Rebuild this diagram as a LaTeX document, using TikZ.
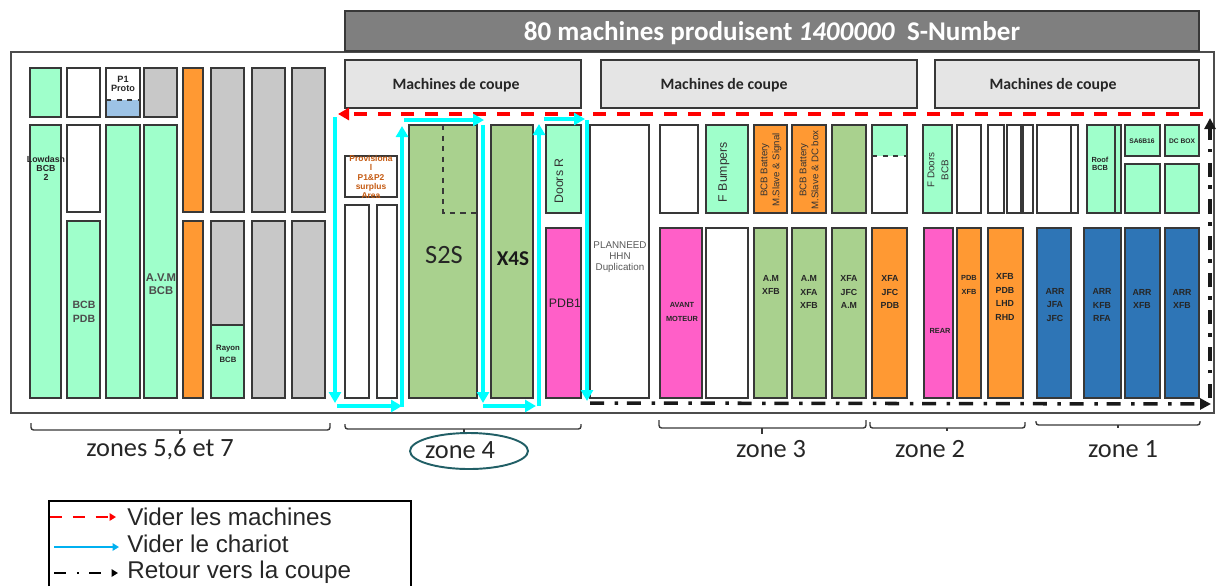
\documentclass[tikz,border=0pt]{standalone}
\usepackage{fontspec}
\setmainfont{Liberation Sans}
\newfontfamily\calib{Carlito}
\usetikzlibrary{arrows.meta, positioning, shapes.geometric}
\definecolor{mint}{HTML}{9FFFCB}
\definecolor{amber}{HTML}{FF9933}
\definecolor{stone}{HTML}{C8C8C8}
\definecolor{leaf}{HTML}{A9D18E}
\definecolor{fuchsia}{HTML}{FF5FC8}
\definecolor{navy}{HTML}{2E75B6}
\definecolor{sky}{HTML}{9DC3E6}
\definecolor{pale}{HTML}{E5E5E5}
\definecolor{slate}{HTML}{7F7F7F}
\definecolor{lagoon}{HTML}{215F66}
\definecolor{rust}{HTML}{C55A11}
\definecolor{aqua}{HTML}{00FFFF}
\definecolor{keyblue}{HTML}{00B0F0}
\definecolor{routered}{HTML}{FF0000}
\tikzset{
  bay/.style={rectangle, draw=black!78, line width=1.1pt, inner sep=0pt, outer sep=0pt, fill=white},
  tag/.style={inner sep=0pt, align=center, text=black!85, font=\bfseries\fontsize{5}{7.7}\selectfont},
  thin tag/.style={inner sep=0pt, align=center, text=black!80, font=\fontsize{6}{7.4}\selectfont},
  coupe/.style={inner sep=0pt, text=black!85, font=\calib\bfseries\fontsize{9}{10}\selectfont},
  zonetag/.style={inner sep=0pt, text=black!85, font=\calib\fontsize{15}{17}\selectfont},
  legendtag/.style={inner sep=0pt, anchor=base west, text=black!85, font=\fontsize{13.8}{16}\selectfont},
  redroute/.style={-{Triangle[length=2.2mm,width=2.4mm]}, routered, line width=2pt, dash pattern=on 7.4pt off 6.2pt},
  cyanroute/.style={-{Triangle[length=2.2mm,width=2.4mm]}, aqua, line width=2pt},
  blackroute/.style={-{Triangle[length=2.2mm,width=2.2mm]}, black!90, line width=2pt, dash pattern=on 8pt off 6pt on 2pt off 5pt},
  zonebrace/.style={draw=black!78, line width=0.8pt, rounded corners=1.5pt},
}
\newcommand{\bay}[6][]{\node[bay,#1,minimum width={(#4-#2)*0.02cm},minimum height={(#5-#3)*0.02cm}] (#6) at ({(#2+#4)/2},{(#3+#5)/2}) {};}

\begin{document}
\begin{tikzpicture}[x=0.02cm, y=-0.02cm]
  \useasboundingbox (0,0) rectangle (1223,586);

  \bay[draw=black!70, fill=none]{11}{52}{1214}{413}{hall}
  \bay[fill=slate]{345}{11}{1199}{51}{header}
  \node[inner sep=0pt, text=white, font=\calib\bfseries\fontsize{15.4}{18}\selectfont] (headertext) at (772,33) {80 machines produisent \textit{1400000}~ S-Number};

  % machines de coupe
  \bay[fill=pale]{345}{60}{581}{108}{coupeA}
  \bay[fill=pale]{601}{60}{917}{108}{coupeB}
  \bay[fill=pale]{935}{60}{1199}{108}{coupeC}
  \node[coupe] (coupeAtext) at (456,85) {Machines de coupe};
  \node[coupe] (coupeBtext) at (724,85) {Machines de coupe};
  \node[coupe] (coupeCtext) at (1053,85) {Machines de coupe};

  % zones 5,6 et 7
  \bay[fill=mint]{30}{68}{61}{117}{upA}
  \bay{67}{68}{100}{117}{upB}
  \bay{106}{68}{140}{117}{upC}
  \bay[fill=sky, draw=none]{107}{100}{139}{116}{upCblue}
  \draw[black!78, line width=1.1pt, dashed] (upC.west |- upCblue.north) -- (upC.east |- upCblue.north);
  \bay[fill=stone]{144}{68}{177}{117}{upD}
  \bay[fill=amber]{183}{68}{203}{212}{upE}
  \bay[fill=stone]{211}{68}{244}{212}{upF}
  \bay[fill=stone]{252}{68}{285}{212}{upG}
  \bay[fill=stone]{292}{68}{325}{212}{upH}
  \bay[fill=mint]{30}{125}{61}{398}{lowA}
  \bay{67}{125}{100}{212}{midB}
  \bay[fill=mint]{67}{221}{100}{398}{lowB}
  \bay[fill=mint]{106}{125}{140}{398}{lowC}
  \bay[fill=mint]{144}{125}{177}{398}{lowD}
  \bay[fill=amber]{183}{221}{203}{398}{lowE}
  \bay[fill=stone]{211}{221}{244}{325}{lowF}
  \bay[fill=mint]{211}{325}{244}{398}{lowFmint}
  \bay[fill=stone]{252}{221}{285}{398}{lowG}
  \bay[fill=stone]{292}{221}{325}{398}{lowH}
  \node[tag, font=\bfseries\fontsize{5.2}{5.4}\selectfont] (protoText) at (123,84) {P1\\Proto};
  \node[tag, font=\bfseries\fontsize{5}{5.1}\selectfont] (lowdashText) at (46,168) {Lowdash\\BCB\\2};
  \node[thin tag, font=\bfseries\fontsize{6}{8}\selectfont, text=black!70] (bcbPdbText) at (84,312) {BCB\\PDB};
  \node[thin tag, font=\bfseries\fontsize{6.4}{7.5}\selectfont, text=black!70] (avmText) at (161,284) {A.V.M\\BCB};
  \node[tag, font=\bfseries\fontsize{4.4}{7}\selectfont] (rayonText) at (228,354) {Rayon\\BCB};

  % zone 4
  \bay{345}{156}{397}{197}{surplus}
  \bay{345}{205}{369}{398}{chariotA}
  \bay{377}{205}{397}{398}{chariotB}
  \bay[fill=leaf]{409}{125}{477}{398}{stwos}
  \draw[black!78, line width=1.1pt, dashed] (443,125) -- (443,213) -- (477,213);
  \bay[fill=leaf]{491}{125}{533}{398}{xfours}
  \bay[fill=mint]{546}{125}{581}{213}{doorsR}
  \bay[fill=fuchsia]{546}{228}{581}{398}{pdbone}
  \bay{590}{125}{649}{398}{planned}
  \node[tag, text=rust, font=\bfseries\fontsize{4.8}{5.3}\selectfont] (surplusText) at (371,177) {Provisiona\\l\\P1\&P2\\surplus\\Area};
  \node[inner sep=0pt, text=black!85, font=\calib\fontsize{15}{17}\selectfont] (stwosText) at (444,255) {S2S};
  \node[inner sep=0pt, text=black!90, font=\calib\bfseries\fontsize{12}{14}\selectfont] (xfoursText) at (513,259) {X4S};
  \node[thin tag, rotate=90, font=\fontsize{7}{8}\selectfont] (doorsRText) at (559,181) {Doors R};
  \node[inner sep=0pt, text=black!85, font=\fontsize{7}{8}\selectfont] (pdboneText) at (565,303) {PDB1};
  \node[thin tag, text=black!65, font=\fontsize{5.6}{6.2}\selectfont] (plannedText) at (620,257) {PLANNEED\\HHN\\Duplication};

  % zone 3
  \bay{660}{125}{698}{213}{upI}
  \bay[fill=mint]{706}{125}{748}{213}{upJ}
  \bay[fill=amber]{754}{125}{787}{213}{upK}
  \bay[fill=amber]{792}{125}{826}{213}{upL}
  \bay[fill=leaf]{832}{125}{866}{213}{upM}
  \bay[fill=fuchsia]{660}{228}{702}{398}{lowI}
  \bay{706}{228}{748}{398}{lowJ}
  \bay[fill=leaf]{754}{228}{787}{398}{lowK}
  \bay[fill=leaf]{792}{228}{826}{398}{lowL}
  \bay[fill=leaf]{832}{228}{866}{398}{lowM}
  \node[thin tag, rotate=90, font=\fontsize{7}{8}\selectfont] (bumpersText) at (724,172) {F Bumpers};
  \node[thin tag, rotate=90, font=\fontsize{5.5}{6.8}\selectfont] (batteryAText) at (771,170) {BCB Battery\\M.Slave \& Signal};
  \node[thin tag, rotate=90, font=\fontsize{5.5}{6.8}\selectfont] (batteryBText) at (809,170) {BCB Battery\\M.Slave \& DC box};
  \node[tag, font=\bfseries\fontsize{4.2}{7.7}\selectfont] (avantText) at (682,312) {AVANT\\MOTEUR};
  \node[tag] (lowKText) at (771,285) {A.M\\XFB};
  \node[tag] (lowLText) at (809,292) {A.M\\XFA\\XFB};
  \node[tag] (lowMText) at (849,292) {XFA\\JFC\\A.M};

  % zone 2
  \bay{872}{125}{907}{213}{upN}
  \bay[fill=mint, draw=none]{873}{126}{906}{156}{upNmint}
  \draw[black!78, line width=1.1pt, dashed] (upN.west |- upNmint.south) -- (upN.east |- upNmint.south);
  \bay[fill=mint]{923}{125}{952}{213}{upO}
  \bay{957}{125}{981}{213}{upP}
  \bay{988}{125}{1004}{213}{upQ}
  \bay{1007}{125}{1021}{213}{upR}
  \bay{1023}{125}{1033}{213}{upS}
  \bay[fill=amber]{872}{228}{907}{398}{lowN}
  \bay[fill=fuchsia]{924}{228}{953}{398}{lowO}
  \bay[fill=amber]{957}{228}{981}{398}{lowP}
  \bay[fill=amber]{988}{228}{1023}{398}{lowQ}
  \node[tag] (lowNText) at (890,292) {XFA\\JFC\\PDB};
  \node[thin tag, rotate=90, font=\fontsize{5.6}{8}\selectfont] (doorsFText) at (938,170) {F Doors\\BCB};
  \node[tag, font=\bfseries\fontsize{4.2}{7}\selectfont] (rearText) at (940,331) {REAR};
  \node[tag, font=\bfseries\fontsize{4.2}{7.7}\selectfont] (lowPText) at (969,285) {PDB\\XFB};
  \node[tag] (lowQText) at (1005,297) {XFB\\PDB\\LHD\\RHD};

  % zone 1
  \bay{1037}{125}{1071}{213}{upT}
  \bay{1071}{125}{1078}{213}{upU}
  \bay[fill=mint]{1087}{125}{1115}{213}{upV}
  \bay[fill=mint]{1115}{125}{1121}{213}{upW}
  \bay[fill=mint]{1125}{125}{1160}{156}{upX}
  \bay[fill=mint]{1165}{125}{1199}{156}{upY}
  \bay[fill=mint]{1125}{164}{1160}{213}{midX}
  \bay[fill=mint]{1165}{164}{1199}{213}{midY}
  \bay[fill=navy]{1037}{228}{1071}{398}{lowT}
  \bay[fill=navy]{1084}{228}{1121}{398}{lowV}
  \bay[fill=navy]{1125}{228}{1160}{398}{lowX}
  \bay[fill=navy]{1165}{228}{1199}{398}{lowY}
  \node[tag, font=\bfseries\fontsize{4.2}{4.8}\selectfont] (roofText) at (1100,164) {Roof\\BCB};
  \node[tag, font=\bfseries\fontsize{3.8}{5}\selectfont] (saText) at (1142,141) {SA6B16};
  \node[tag, font=\bfseries\fontsize{3.8}{5}\selectfont] (dcText) at (1182,141) {DC BOX};
  \node[tag] (lowTText) at (1055,305) {ARR\\JFA\\JFC};
  \node[tag] (lowVText) at (1102,305) {ARR\\KFB\\RFA};
  \node[tag] (lowXText) at (1142,299) {ARR\\XFB};
  \node[tag] (lowYText) at (1182,299) {ARR\\XFB};

  % routes
  \coordinate (redstart) at (1203,114);
  \coordinate (redend) at (338,114);
  \draw[redroute] (redstart) -- (redend);

  \coordinate (cyA) at (335,117);
  \coordinate (cyB) at (335,403);
  \coordinate (cyC) at (337,406);
  \coordinate (cyD) at (402,406);
  \coordinate (cyE) at (402,407);
  \coordinate (cyF) at (402,126);
  \coordinate (cyG) at (404,120);
  \coordinate (cyH) at (484,120);
  \coordinate (cyI) at (483,125);
  \coordinate (cyJ) at (483,403);
  \coordinate (cyK) at (483,406);
  \coordinate (cyL) at (536,406);
  \coordinate (cyM) at (539,406);
  \coordinate (cyN) at (539,124);
  \coordinate (cyO) at (544,119);
  \coordinate (cyP) at (585,119);
  \coordinate (cyQ) at (587,120);
  \coordinate (cyR) at (587,401);
  \draw[cyanroute] (cyA) -- (cyB);
  \draw[cyanroute] (cyC) -- (cyD);
  \draw[cyanroute] (cyE) -- (cyF);
  \draw[cyanroute] (cyG) -- (cyH);
  \draw[cyanroute] (cyI) -- (cyJ);
  \draw[cyanroute] (cyK) -- (cyL);
  \draw[cyanroute] (cyM) -- (cyN);
  \draw[cyanroute] (cyO) -- (cyP);
  \draw[cyanroute] (cyQ) -- (cyR);

  \coordinate (backA) at (590,403);
  \coordinate (backB) at (1211,404);
  \coordinate (backC) at (1210,398);
  \coordinate (backD) at (1210,118);
  \draw[blackroute] (backA) -- (backB);
  \draw[blackroute] (backC) -- (backD);

  % zones
  \draw[zonebrace] (31,423) -- (31,430) -- (330,430) -- (330,423);
  \draw[zonebrace] (180,430) -- (180,434);
  \draw[zonebrace] (345,424) -- (345,429) -- (581,429) -- (581,424);
  \draw[zonebrace] (464,429) -- (464,433);
  \draw[zonebrace] (659,420) -- (659,428) -- (866,428) -- (866,420);
  \draw[zonebrace] (762,428) -- (762,434);
  \draw[zonebrace] (870,422) -- (870,428) -- (1025,428) -- (1025,422);
  \draw[zonebrace] (947,428) -- (947,431);
  \draw[zonebrace] (1036,421) -- (1036,425) -- (1200,425) -- (1200,421);
  \draw[zonebrace] (1118,425) -- (1118,428);
  \node[zonetag] (zoneseven) at (160,449) {zones 5,6 et 7};
  \node[zonetag] (zonefour) at (460,450) {zone 4};
  \node[ellipse, draw=lagoon, line width=1.1pt, inner sep=0pt, minimum width=2.36cm, minimum height=0.72cm] (zonering) at (469,451) {};
  \node[zonetag] (zonethree) at (771,449) {zone 3};
  \node[zonetag] (zonetwo) at (930,449) {zone 2};
  \node[zonetag] (zoneone) at (1123,449) {zone 1};

  % legend
  \coordinate (legendA) at (49,586);
  \coordinate (legendB) at (49,501);
  \coordinate (legendC) at (411,501);
  \coordinate (legendD) at (411,586);
  \draw[black, line width=1.2pt] (legendA) -- (legendB) -- (legendC) -- (legendD);
  \node[legendtag] (legendred) at (127,525) {Vider les machines};
  \node[legendtag] (legendcyan) at (127,552) {Vider le chariot};
  \node[legendtag] (legendblack) at (127,578) {Retour vers la coupe};
  \coordinate (keyredA) at (50,517);
  \coordinate (keyredB) at (116,517);
  \coordinate (keycyanA) at (54,547);
  \coordinate (keycyanB) at (119,547);
  \coordinate (keyblackA) at (54,573);
  \coordinate (keyblackB) at (118,573);
  \draw[-{Triangle[length=1.3mm,width=1.5mm]}, routered, line width=1.1pt, dash pattern=on 7pt off 6pt] (keyredA) -- (keyredB);
  \draw[-{Triangle[length=1.3mm,width=1.5mm]}, keyblue, line width=1.1pt] (keycyanA) -- (keycyanB);
  \draw[-{Triangle[length=1.3mm,width=1.5mm]}, black, line width=1.1pt, dash pattern=on 7pt off 6pt on 1pt off 6pt] (keyblackA) -- (keyblackB);
\end{tikzpicture}
\end{document}
